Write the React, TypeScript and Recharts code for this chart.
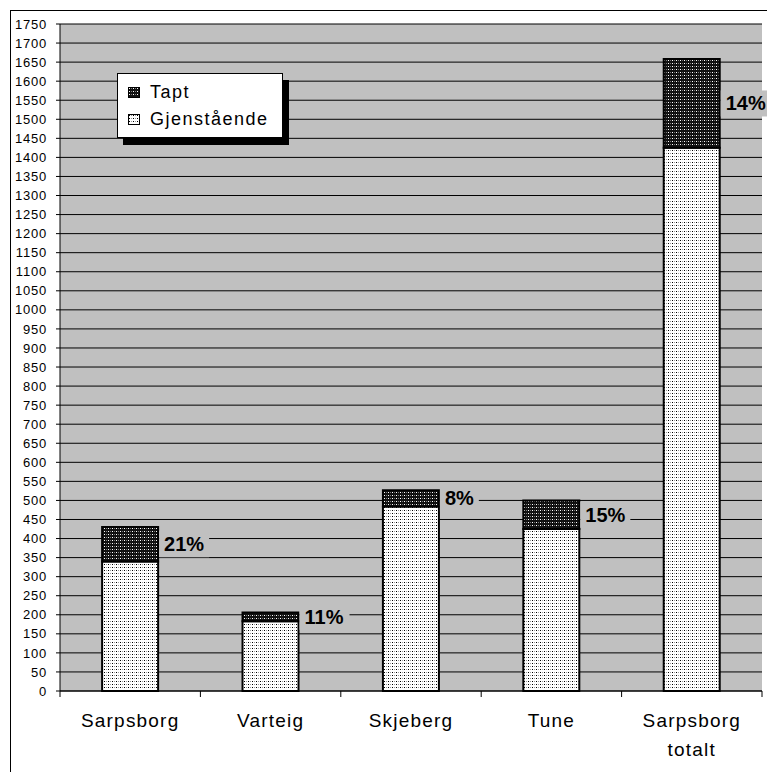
import React from "react";
import { BarChart, Bar, XAxis, YAxis, CartesianGrid, Legend, LabelList } from "recharts";

const categories = ["Sarpsborg", "Varteig", "Skjeberg", "Tune", "Sarpsborg totalt"];
const gjenstaende = [340, 183, 484, 425, 1425];
const tapt = [90, 23, 43, 75, 233];
const yTicks = [
  0, 50, 100, 150, 200, 250, 300, 350, 400, 450, 500, 550, 600, 650, 700, 750, 800, 850,
  900, 950, 1000, 1050, 1100, 1150, 1200, 1250, 1300, 1350, 1400, 1450, 1500, 1550, 1600,
  1650, 1700, 1750,
];

const data = categories.map((name, i) => ({ name, gjenstaende: gjenstaende[i], tapt: tapt[i] }));

const CHART_W = 756;
const CHART_H = 761;
const Y_AXIS_W = 49;
const RIGHT_M = 5;
const band = (CHART_W - Y_AXIS_W - RIGHT_M) / categories.length;
const FONT = "'Liberation Sans', Arial, sans-serif";

const XTick = (props: any) => {
  const { x, y, payload, index } = props;
  const lines = String(payload.value).split(" ");
  return (
    <g>
      <line x1={x - band / 2} x2={x - band / 2} y1={y} y2={y + 6} stroke="#000" />
      {index === categories.length - 1 && (
        <line x1={x + band / 2} x2={x + band / 2} y1={y} y2={y + 6} stroke="#000" />
      )}
      {lines.map((l, i) => (
        <text
          key={i}
          x={x}
          y={y + 36 + i * 29}
          textAnchor="middle"
          fontSize={19}
          fontFamily={FONT}
          letterSpacing={1.2}
          fill="#000"
        >
          {l}
        </text>
      ))}
    </g>
  );
};

const PctLabel = (props: any) => {
  const { x, y, width, height, index } = props;
  const total = tapt[index] + gjenstaende[index];
  const pct = Math.round((tapt[index] / total) * 100) + "%";
  const textW = (pct.length - 1) * 11.1 + 17.8;
  const cy = y + height / 2;
  const left = x + width + 1;
  return (
    <g>
      <rect x={left} y={cy - 13} width={textW + 10} height={26} fill="#C0C0C0" />
      <text
        x={x + width + 6}
        y={cy}
        dominantBaseline="central"
        fontSize={20}
        fontWeight="bold"
        fontFamily={FONT}
        fill="#000"
      >
        {pct}
      </text>
    </g>
  );
};

const legendItems = [
  { label: "Tapt", fill: "url(#taptPat)" },
  { label: "Gjenstående", fill: "url(#gjenPat)" },
];

const LegendBox = () => (
  <div
    style={{
      width: 166,
      height: 65,
      boxSizing: "border-box",
      background: "#fff",
      border: "1px solid #000",
      boxShadow: "6px 7px 0 #000",
      fontFamily: FONT,
      fontSize: 18,
      letterSpacing: 1.5,
      paddingTop: 5,
    }}
  >
    {legendItems.map((it) => (
      <div key={it.label} style={{ display: "flex", alignItems: "center", height: 27 }}>
        <svg width={12} height={11} style={{ marginLeft: 10, marginRight: 10 }}>
          <rect x={0.5} y={0.5} width={11} height={10} fill={it.fill} stroke="#000" />
        </svg>
        <span>{it.label}</span>
      </div>
    ))}
  </div>
);

export default function App() {
  return (
    <div
      style={{
        position: "absolute",
        left: 10,
        top: 10,
        width: 757,
        height: 762,
        boxSizing: "border-box",
        borderLeft: "1px solid #000",
        borderTop: "1px solid #000",
        background: "#fff",
      }}
    >
      <BarChart
        width={CHART_W}
        height={CHART_H}
        data={data}
        margin={{ top: 13, right: RIGHT_M, bottom: 0, left: 0 }}
        barCategoryGap="30%"
      >
        <defs>
          <pattern id="taptPat" width={4} height={3} patternUnits="userSpaceOnUse">
            <rect width={4} height={3} fill="#111" />
            <rect x={1} y={1} width={1} height={1} fill="#fff" />
            <rect x={3} y={1} width={1} height={1} fill="#777" />
          </pattern>
          <pattern id="gjenPat" width={4} height={3} patternUnits="userSpaceOnUse">
            <rect width={4} height={3} fill="#fff" />
            <rect x={1} y={1} width={1} height={1} fill="#000" />
            <rect x={3} y={1} width={1} height={1} fill="#999" />
          </pattern>
        </defs>
        <CartesianGrid vertical={false} fill="#C0C0C0" stroke="#000" fillOpacity={1} />
        <XAxis
          dataKey="name"
          interval={0}
          height={81}
          tickSize={0}
          tickMargin={0}
          tickLine={false}
          axisLine={{ stroke: "#000" }}
          tick={<XTick />}
        />
        <YAxis
          domain={[0, 1750]}
          ticks={yTicks}
          interval={0}
          width={Y_AXIS_W}
          tickSize={4}
          tickMargin={9}
          axisLine={{ stroke: "#000" }}
          tickLine={{ stroke: "#000" }}
          tick={{ fontSize: 13, fill: "#000", fontFamily: FONT, letterSpacing: 0.8 }}
        />
        <YAxis
          yAxisId="edge"
          orientation="right"
          width={0}
          domain={[0, 1750]}
          tick={false}
          tickLine={false}
          axisLine={{ stroke: "#808080" }}
        />
        <Legend
          layout="vertical"
          align="center"
          verticalAlign="middle"
          content={<LegendBox />}
          wrapperStyle={{ position: "absolute", left: 106, top: 62, width: 166, height: 65 }}
        />
        <Bar
          dataKey="gjenstaende"
          name="Gjenstående"
          stackId="a"
          fill="url(#gjenPat)"
          stroke="#000"
          strokeWidth={2}
          isAnimationActive={false}
        />
        <Bar
          dataKey="tapt"
          name="Tapt"
          stackId="a"
          fill="url(#taptPat)"
          stroke="#000"
          strokeWidth={2}
          isAnimationActive={false}
        >
          <LabelList dataKey="tapt" content={<PctLabel />} />
        </Bar>
      </BarChart>
    </div>
  );
}
